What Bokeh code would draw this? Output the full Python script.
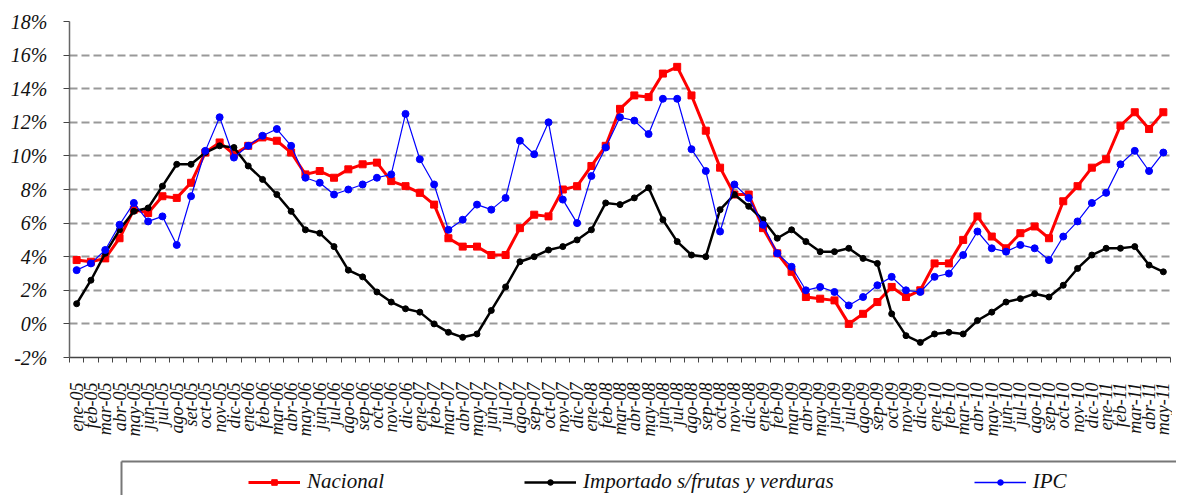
import math
from bokeh.plotting import figure
from bokeh.layouts import column, row
from bokeh.models import (ColumnDataSource, FixedTicker, PrintfTickFormatter, Legend,
                          LegendItem, Range1d, CustomJSTickFormatter, Spacer)
from bokeh.embed import file_html
from bokeh.resources import INLINE

months = [
    "ene-05", "feb-05", "mar-05", "abr-05", "may-05", "jun-05", "jul-05", "ago-05", "set-05", "oct-05", "nov-05", "dic-05",
    "ene-06", "feb-06", "mar-06", "abr-06", "may-06", "jun-06", "jul-06", "ago-06", "sep-06", "oct-06", "nov-06", "dic-06",
    "ene-07", "feb-07", "mar-07", "abr-07", "may-07", "jun-07", "jul-07", "ago-07", "sep-07", "oct-07", "nov-07", "dic-07",
    "ene-08", "feb-08", "mar-08", "abr-08", "may-08", "jun-08", "jul-08", "ago-08", "sep-08", "oct-08", "nov-08", "dic-08",
    "ene-09", "feb-09", "mar-09", "abr-09", "may-09", "jun-09", "jul-09", "ago-09", "sep-09", "oct-09", "nov-09", "dic-09",
    "ene-10", "feb-10", "mar-10", "abr-10", "may-10", "jun-10", "jul-10", "ago-10", "sep-10", "oct-10", "nov-10", "dic-10",
    "ene-11", "feb-11", "mar-11", "abr-11", "may-11",
]

nacional = [
    3.8, 3.7, 3.9, 5.1, 6.8, 6.6, 7.6, 7.5, 8.4, 10.2, 10.8, 10.1,
    10.6, 11.1, 10.9, 10.2, 8.9, 9.1, 8.7, 9.2, 9.5, 9.6, 8.5, 8.2,
    7.8, 7.1, 5.1, 4.6, 4.6, 4.1, 4.1, 5.7, 6.5, 6.4, 8.0, 8.2,
    9.4, 10.6, 12.8, 13.6, 13.5, 14.9, 15.3, 13.6, 11.5, 9.3, 7.7, 7.7,
    5.7, 4.2, 3.1, 1.6, 1.5, 1.4, 0.0, 0.6, 1.3, 2.2, 1.6, 2.0,
    3.6, 3.6, 5.0, 6.4, 5.2, 4.5, 5.4, 5.8, 5.1, 7.3, 8.2, 9.3,
    9.8, 11.8, 12.6, 11.6, 12.6,
]

importado = [
    1.2, 2.6, 4.2, 5.6, 6.7, 6.9, 8.2, 9.5, 9.5, 10.2, 10.6, 10.5,
    9.4, 8.6, 7.7, 6.7, 5.6, 5.4, 4.6, 3.2, 2.8, 1.9, 1.3, 0.9,
    0.7, 0.0, -0.5, -0.8, -0.6, 0.8, 2.2, 3.7, 4.0, 4.4, 4.6, 5.0,
    5.6, 7.2, 7.1, 7.5, 8.1, 6.2, 4.9, 4.1, 4.0, 6.8, 7.7, 7.0,
    6.2, 5.1, 5.6, 4.9, 4.3, 4.3, 4.5, 3.9, 3.6, 0.6, -0.7, -1.1,
    -0.6, -0.5, -0.6, 0.2, 0.7, 1.3, 1.5, 1.8, 1.6, 2.3, 3.3, 4.1,
    4.5, 4.5, 4.6, 3.5, 3.1,
]

ipc = [
    3.2, 3.6, 4.4, 5.9, 7.2, 6.1, 6.4, 4.7, 7.6, 10.3, 12.3, 9.9,
    10.6, 11.2, 11.6, 10.6, 8.7, 8.4, 7.7, 8.0, 8.3, 8.7, 8.9, 12.5,
    9.8, 8.3, 5.6, 6.2, 7.1, 6.8, 7.5, 10.9, 10.1, 12.0, 7.4, 6.0,
    8.8, 10.5, 12.3, 12.1, 11.3, 13.4, 13.4, 10.4, 9.1, 5.5, 8.3, 7.5,
    5.9, 4.2, 3.4, 2.0, 2.2, 1.9, 1.1, 1.6, 2.3, 2.8, 2.0, 1.9,
    2.8, 3.0, 4.1, 5.5, 4.5, 4.3, 4.7, 4.5, 3.8, 5.2, 6.1, 7.2,
    7.8, 9.5, 10.3, 9.1, 10.2,
]

y_ticks = [-2, 0, 2, 4, 6, 8, 10, 12, 14, 16, 18]
series_names = ["Nacional", "Importado s/frutas y verduras", "IPC"]
series_colors = ["#FF0000", "#000000", "#0000FF"]

idx = list(range(len(months)))
src = ColumnDataSource(dict(x=idx, nac=nacional, imp=importado, ipc=ipc))

FONT = "Liberation Serif"

p = figure(width=1172, height=455, output_backend="svg", toolbar_location=None,
           x_range=Range1d(-0.5, len(months) - 0.5), y_range=Range1d(y_ticks[0], y_ticks[-1]),
           min_border_left=69, min_border_right=2, min_border_top=21, min_border_bottom=98)
p.outline_line_color = None

p.xgrid.visible = False
p.ygrid.ticker = FixedTicker(ticks=y_ticks)
p.ygrid.grid_line_color = "#999999"
p.ygrid.grid_line_width = 2
p.ygrid.grid_line_dash = "8 4"

# y axis
p.yaxis.ticker = FixedTicker(ticks=y_ticks)
p.yaxis.formatter = PrintfTickFormatter(format="%d%%")
p.yaxis.axis_line_color = "#666666"
p.yaxis.axis_line_width = 1.5
p.yaxis.major_tick_line_color = "#444444"
p.yaxis.major_tick_out = 6
p.yaxis.major_tick_in = 0
p.yaxis.minor_tick_line_color = None
p.yaxis.major_label_standoff = 16
p.yaxis.major_label_text_font = FONT
p.yaxis.major_label_text_font_style = "italic"
p.yaxis.major_label_text_font_size = "20px"
p.yaxis.major_label_text_color = "#111111"

# x axis
p.xaxis.ticker = FixedTicker(ticks=idx, minor_ticks=[i - 0.5 for i in range(len(months) + 1)])
p.xaxis.formatter = CustomJSTickFormatter(args=dict(labels=months),
                                          code="const i = Math.round(tick); return (i >= 0 && i < labels.length) ? labels[i] : '';")
p.xaxis.axis_line_color = "#444444"
p.xaxis.axis_line_width = 1.5
p.xaxis.major_tick_out = 0
p.xaxis.major_tick_in = 0
p.xaxis.major_tick_line_color = None
p.xaxis.minor_tick_out = 5
p.xaxis.minor_tick_in = 0
p.xaxis.minor_tick_line_color = "#444444"
p.xaxis.major_label_orientation = math.pi / 2
p.xaxis.major_label_standoff = 20
p.xaxis.major_label_text_font = FONT
p.xaxis.major_label_text_font_style = "italic"
p.xaxis.major_label_text_font_size = "18px"
p.xaxis.major_label_text_color = "#111111"

# series
p.line("x", "nac", source=src, line_color=series_colors[0], line_width=3)
p.scatter("x", "nac", source=src, marker="square", size=7, color=series_colors[0])
p.line("x", "imp", source=src, line_color=series_colors[1], line_width=2.5)
p.scatter("x", "imp", source=src, marker="circle", size=6, color=series_colors[1])
p.line("x", "ipc", source=src, line_color=series_colors[2], line_width=1.2)
p.scatter("x", "ipc", source=src, marker="circle", size=7, color=series_colors[2])

# legend panel (box shows only top and left edges, like the cut-off reference box)
lg = figure(width=1124, height=40, output_backend="svg", toolbar_location=None,
            x_range=Range1d(1000, 1001), y_range=Range1d(1000, 1001),
            x_axis_location="above", y_axis_location="left",
            min_border_left=69, min_border_right=0, min_border_top=6, min_border_bottom=0)
lg.outline_line_color = None
lg.grid.visible = False
for ax in (lg.xaxis[0], lg.yaxis[0]):
    ax.ticker = FixedTicker(ticks=[])
    ax.axis_line_color = "#777777"
    ax.axis_line_width = 2
    ax.major_tick_line_color = None
    ax.minor_tick_line_color = None
    ax.major_label_text_font_size = "0px"
    ax.major_label_standoff = 0
    ax.major_tick_out = 0
    ax.minor_tick_out = 0

# legend proxies: same data, outside this panel's ranges, so only the legend glyphs show
l1a = lg.line("x", "nac", source=src, line_color=series_colors[0], line_width=3)
l1b = lg.scatter("x", "nac", source=src, marker="square", size=7, color=series_colors[0])
l2a = lg.line("x", "imp", source=src, line_color=series_colors[1], line_width=2.5)
l2b = lg.scatter("x", "imp", source=src, marker="circle", size=6, color=series_colors[1])
l3a = lg.line("x", "ipc", source=src, line_color=series_colors[2], line_width=1.5)
l3b = lg.scatter("x", "ipc", source=src, marker="circle", size=7, color=series_colors[2])

entries = Legend(items=[LegendItem(label=series_names[0], renderers=[l1a, l1b]),
                        LegendItem(label=series_names[1], renderers=[l2a, l2b]),
                        LegendItem(label=series_names[2], renderers=[l3a, l3b])],
                 location=(127, 1), orientation="horizontal",
                 glyph_width=52, glyph_height=14, label_height=22, label_standoff=7,
                 spacing=140, padding=0, margin=0,
                 border_line_color=None, background_fill_alpha=0,
                 label_text_font=FONT, label_text_font_style="italic",
                 label_text_font_size="21px", label_text_color="#111111")
lg.add_layout(entries, "center")

layout = column(p, row(Spacer(width=52, height=40), lg, spacing=0), spacing=0)
open("out.html", "w").write(file_html(layout, INLINE))
